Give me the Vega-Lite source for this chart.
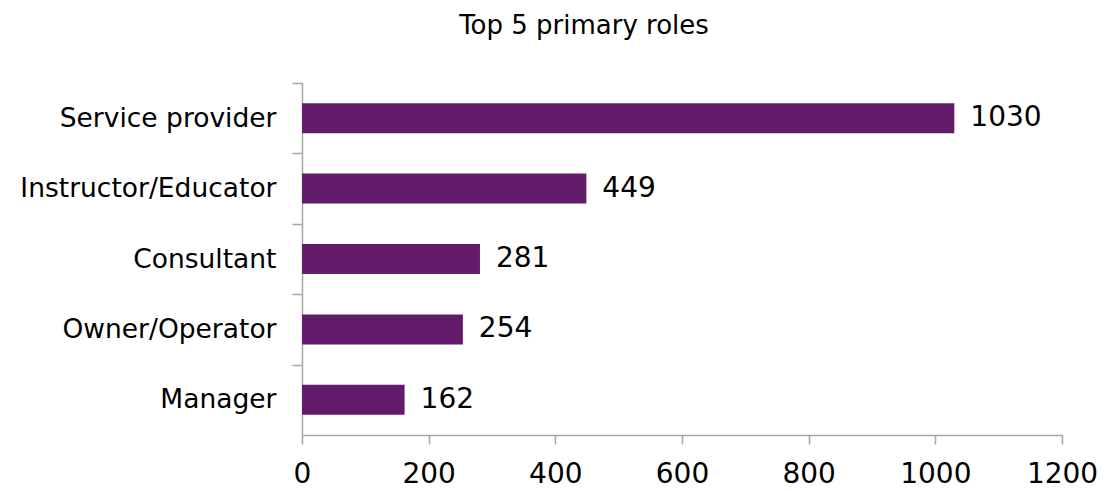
{
  "$schema": "https://vega.github.io/schema/vega-lite/v6.json",
  "width": 760,
  "height": 352,
  "autosize": {"type": "none"},
  "padding": {"left": 302, "top": 83, "right": 50, "bottom": 56},
  "background": "white",
  "title": {
    "text": "Top 5 primary roles",
    "font": "DejaVu Sans",
    "fontSize": 26,
    "fontWeight": "normal",
    "color": "#000000",
    "anchor": "middle",
    "frame": "group",
    "baseline": "alphabetic",
    "offset": 22,
    "dx": -98
  },
  "data": {
    "values": [
      {"role": "Service provider", "count": 1030},
      {"role": "Instructor/Educator", "count": 449},
      {"role": "Consultant", "count": 281},
      {"role": "Owner/Operator", "count": 254},
      {"role": "Manager", "count": 162}
    ]
  },
  "encoding": {
    "y": {
      "field": "role",
      "type": "nominal",
      "sort": null,
      "scale": {"paddingInner": 0.574, "paddingOuter": 0.287},
      "axis": {
        "title": null,
        "domainColor": "#a6a6a6",
        "domainWidth": 1.5,
        "tickColor": "#a6a6a6",
        "tickWidth": 1.5,
        "tickSize": 10,
        "bandPosition": 0,
        "tickOffset": -20.2,
        "labelOffset": 20.2,
        "labelPadding": 16,
        "labelFont": "DejaVu Sans",
        "labelFontSize": 26.5,
        "labelColor": "#000000",
        "labelLimit": 400
      }
    },
    "x": {
      "field": "count",
      "type": "quantitative",
      "scale": {"domain": [0, 1200], "nice": false},
      "axis": {
        "title": null,
        "values": [0, 200, 400, 600, 800, 1000, 1200],
        "format": "d",
        "grid": false,
        "domainColor": "#a6a6a6",
        "domainWidth": 1.5,
        "tickColor": "#a6a6a6",
        "tickWidth": 1.5,
        "tickSize": 9,
        "labelPadding": 16,
        "labelFont": "DejaVu Sans",
        "labelFontSize": 28,
        "labelColor": "#000000",
        "labelFlush": false
      }
    }
  },
  "layer": [
    {
      "mark": {"type": "bar", "color": "#631b6b"}
    },
    {
      "mark": {
        "type": "text",
        "align": "left",
        "baseline": "middle",
        "dx": 16,
        "font": "DejaVu Sans",
        "fontSize": 28,
        "color": "#000000"
      },
      "encoding": {"text": {"field": "count", "type": "quantitative"}}
    }
  ],
  "config": {"view": {"stroke": null}}
}
